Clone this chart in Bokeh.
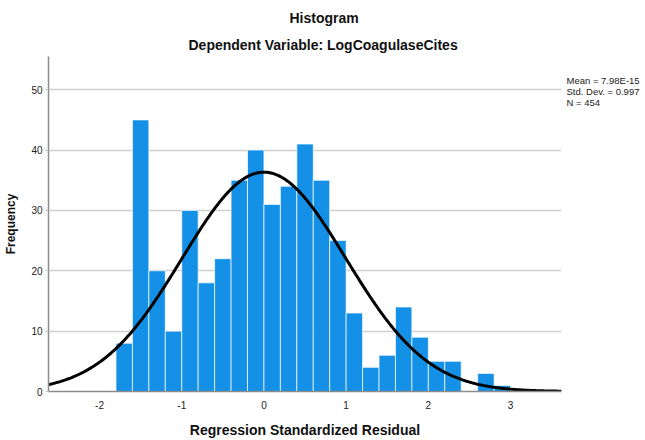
import numpy as np
from bokeh.plotting import figure
from bokeh.models import Range1d, FixedTicker, Title, LinearAxis, AllLabels
from bokeh.embed import file_html
from bokeh.resources import INLINE

# ---- data ----
bin_left = [-1.8, -1.6, -1.4, -1.2, -1.0, -0.8, -0.6, -0.4, -0.2, 0.0, 0.2, 0.4,
            0.6, 0.8, 1.0, 1.2, 1.4, 1.6, 1.8, 2.0, 2.2, 2.4, 2.6, 2.8]
bin_right = [-1.6, -1.4, -1.2, -1.0, -0.8, -0.6, -0.4, -0.2, 0.0, 0.2, 0.4, 0.6,
             0.8, 1.0, 1.2, 1.4, 1.6, 1.8, 2.0, 2.2, 2.4, 2.6, 2.8, 3.0]
counts = [8, 45, 20, 10, 30, 18, 22, 35, 40, 31, 34, 41,
          35, 25, 13, 4, 6, 14, 9, 5, 5, 0, 3, 1]
x_ticks = [-2, -1, 0, 1, 2, 3]
x_tick_labels = ["-2", "-1", "0", "1", "2", "3"]
y_ticks = [0, 10, 20, 30, 40, 50]
mean_val = 7.98e-15
sd_val = 0.997
n_val = 454
bin_width = 0.2
stats_lines = ["Mean = 7.98E-15", "Std. Dev. = 0.997", "N = 454"]
title_text = "Histogram"
subtitle_text = "Dependent Variable: LogCoagulaseCites"
x_label = "Regression Standardized Residual"
y_label = "Frequency"

FONT = "Liberation Sans"

x0, x1 = -2.621, 3.62
y0, y1 = 0, 55.5
p = figure(width=645, height=440, output_backend="svg", toolbar_location=None,
           x_range=Range1d(x0, x1), y_range=Range1d(y0, y1),
           min_border_left=48, min_border_right=84, min_border_top=56, min_border_bottom=49)
p.outline_line_color = None
p.background_fill_color = "white"
p.border_fill_color = "white"

# titles (first added sits closest to the frame)
p.add_layout(Title(text=subtitle_text, align="left", offset=140, text_font=FONT,
                   text_font_size="14px", text_font_style="bold", text_color="#111111",
                   standoff=7), "above")
p.add_layout(Title(text=title_text, align="left", offset=241, text_font=FONT,
                   text_font_size="14px", text_font_style="bold", text_color="#111111",
                   standoff=11), "above")

# grid
p.xgrid.grid_line_color = None
p.ygrid.ticker = FixedTicker(ticks=[10, 20, 30, 40, 50])
p.ygrid.grid_line_color = "#d0d0d0"
p.ygrid.grid_line_width = 1.5

# axes
p.xaxis.ticker = FixedTicker(ticks=x_ticks)
p.xaxis.major_label_overrides = {t: s for t, s in zip(x_ticks, x_tick_labels)}
p.yaxis.ticker = FixedTicker(ticks=y_ticks)
for ax in (p.xaxis[0], p.yaxis[0]):
    ax.axis_line_color = "#8c8c8c"
    ax.axis_line_width = 1.5
    ax.major_label_text_font = FONT
    ax.major_label_text_font_size = "10px"
    ax.major_label_text_color = "#222222"
    ax.minor_tick_line_color = None
    ax.axis_label_text_font = FONT
    ax.axis_label_text_font_style = "bold"
    ax.axis_label_text_color = "#111111"
p.xaxis.major_tick_line_color = None
p.xaxis.major_tick_in = 0
p.xaxis.major_tick_out = 0
p.xaxis.major_label_standoff = 9
p.xaxis.axis_label = x_label
p.xaxis.axis_label_text_font_size = "14px"
p.xaxis.axis_label_standoff = 10
p.yaxis.major_tick_line_color = "#c8c8c8"
p.yaxis.major_tick_in = 0
p.yaxis.major_tick_out = 3
p.yaxis.major_label_standoff = 3
p.yaxis.axis_label = y_label
p.yaxis.axis_label_text_font_size = "12px"
p.yaxis.axis_label_standoff = 10

# statistics text on the right, placed as labels of an otherwise invisible right axis
frame_px = 335.0  # frame height in pixels
stat_pos = [y1 - (24 + 11 * i) * (y1 - y0) / frame_px for i in range(len(stats_lines))]
stat_axis = LinearAxis(ticker=FixedTicker(ticks=stat_pos),
                       major_label_overrides={t: s for t, s in zip(stat_pos, stats_lines)},
                       major_label_policy=AllLabels(),
                       axis_line_color=None, major_tick_line_color=None, minor_tick_line_color=None,
                       major_tick_in=0, major_tick_out=0,
                       major_label_standoff=5, major_label_text_font=FONT,
                       major_label_text_font_size="9.5px", major_label_text_color="#222222")
p.add_layout(stat_axis, "right")

# bars
p.quad(left=bin_left, right=bin_right, top=counts, bottom=0,
       fill_color="#1490e6", line_color="white", line_alpha=0.7, line_width=1)

# fitted normal curve
xs = np.linspace(x0, x1, 400)
ys = n_val * bin_width * np.exp(-0.5 * ((xs - mean_val) / sd_val) ** 2) / (sd_val * np.sqrt(2 * np.pi))
p.line(xs, ys, line_color="black", line_width=3)

open("out.html", "w").write(file_html(p, INLINE))
